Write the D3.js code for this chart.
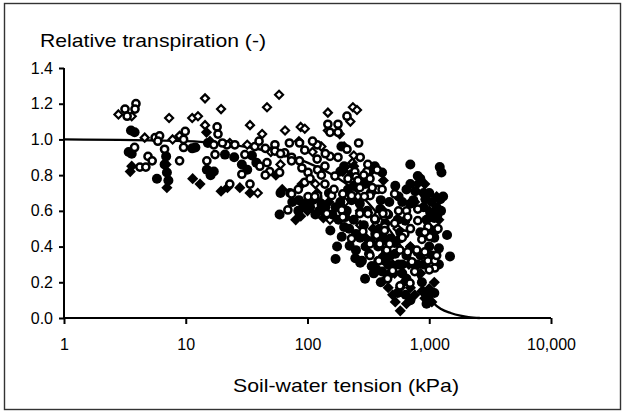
<!DOCTYPE html>
<html>
<head>
<meta charset="utf-8">
<script src="https://cdn.jsdelivr.net/npm/d3@7"></script>
<style>
  body { margin: 0; background: #fff; }
  text { font-family: "Liberation Sans", Arial, sans-serif; fill: #000; }
</style>
</head>
<body>
<svg id="chart"></svg>
<script>
// soil-water tension (kPa), relative transpiration (-)
const openDiamonds = [
  [2.8, 1.14], [3.6, 1.13], [7.3, 1.12], [4.6, 1.01], [7.8, 1.0], [8.9, 1.02],
  [11.3, 1.12], [12.6, 1.13], [14.4, 1.23], [19.5, 1.17], [14.4, 1.08], [33.7, 1.08],
  [46.5, 1.18], [58.4, 1.25], [65.4, 1.05], [42.4, 1.03], [23, 0.98], [32, 0.97],
  [88, 1.07], [95, 1.06], [147, 1.15], [236, 1.18], [255, 1.165], [225, 1.1],
  [147, 1.05], [184, 1.03], [39, 0.7], [153, 0.55], [271, 0.52], [204, 0.65],
  [313, 0.59], [116, 0.75], [225, 0.83], [234, 0.87], [240, 0.91], [60, 0.86],
  [50, 0.93], [110, 0.93], [130, 0.96], [85, 0.99], [200, 0.96], [300, 0.78],
  [420, 0.6], [550, 0.5], [700, 0.4], [260, 0.68]
];

const filledDiamonds = [
  [3.5, 0.82], [3.6, 0.85], [6.9, 0.86], [7.0, 0.73], [11.4, 0.78], [13.1, 0.75],
  [19.5, 0.71], [22, 0.73], [27.8, 0.73], [33.7, 0.7], [14.8, 1.04], [15.8, 0.99],
  [100, 0.6], [80, 0.55], [195, 0.82], [240, 0.85], [330, 0.82], [420, 0.77],
  [800, 0.75], [920, 0.75], [760, 0.65], [636, 0.55], [470, 0.44], [420, 0.35],
  [500, 0.3], [520, 0.25], [440, 0.22], [578, 0.17], [700, 0.17], [760, 0.13],
  [870, 0.15], [1000, 0.165], [920, 0.11], [578, 0.04], [526, 0.09], [500, 0.13],
  [620, 0.2], [850, 0.25], [1100, 0.2], [1050, 0.09], [680, 0.3], [345, 0.5],
  [300, 0.45], [150, 0.65], [120, 0.7], [90, 0.75], [62, 0.72], [55, 0.8],
  [270, 0.6], [1200, 0.55], [1000, 0.6], [900, 0.45], [88, 0.57], [135, 0.56],
  [380, 0.27], [460, 0.17], [650, 0.08], [1150, 0.68]
];

const filledCircles = [
  [3.55, 1.05], [3.8, 1.04], [3.6, 0.92], [3.4, 0.93], [6.9, 0.905], [5.8, 0.78],
  [7.0, 0.815], [7.2, 0.77], [6.7, 0.86], [11.3, 0.95], [12, 0.955], [14.9, 0.83],
  [15.2, 0.98], [21, 0.915], [28.9, 0.86], [25, 0.9], [35, 0.91], [38, 0.87],
  [32, 0.83], [17, 0.82], [16, 0.8],
  [59, 0.58], [60, 0.7], [72, 0.7], [92, 0.62], [116, 0.58], [154, 0.49],
  [200, 0.51], [250, 0.38], [271, 0.31], [340, 0.29], [410, 0.26], [84, 0.6],
  [121, 0.67], [140, 0.62], [186, 0.65], [215, 0.72], [230, 0.805], [190, 0.96],
  [269, 0.64], [297, 0.75], [326, 0.835], [357, 0.72], [396, 0.61], [435, 0.53],
  [480, 0.445], [526, 0.36], [578, 0.445], [636, 0.545], [699, 0.64], [768, 0.71],
  [845, 0.78], [929, 0.665], [1021, 0.585], [1122, 0.49], [1200, 0.39], [1234, 0.665],
  [720, 0.305], [650, 0.22], [550, 0.14], [480, 0.25], [435, 0.32], [337, 0.29],
  [297, 0.22], [280, 0.32], [247, 0.335], [222, 0.405], [191, 0.455], [175, 0.4],
  [170, 0.33], [204, 0.565], [699, 0.86], [1220, 0.845], [1260, 0.815], [805, 0.795],
  [1300, 0.68], [357, 0.85], [410, 0.815], [526, 0.74], [1400, 0.465], [1480, 0.345],
  [1170, 0.58], [1100, 0.56], [578, 0.48], [845, 0.48], [800, 0.37], [700, 0.39],
  [450, 0.43], [360, 0.47], [400, 0.66], [600, 0.65], [740, 0.66], [1000, 0.7],
  [900, 0.62], [460, 0.58], [200, 0.85], [186, 0.82], [240, 0.74], [360, 0.55],
  [310, 0.6], [270, 0.45], [330, 0.43], [600, 0.3], [900, 0.3], [1000, 0.4],
  [870, 0.2], [980, 0.12], [1100, 0.14], [950, 0.08], [700, 0.1], [640, 0.13],
  [75, 0.65], [85, 0.66], [95, 0.64], [105, 0.62], [110, 0.66], [125, 0.6],
  [130, 0.64], [160, 0.58], [170, 0.62], [180, 0.55], [210, 0.6], [220, 0.5],
  [240, 0.55], [250, 0.47], [290, 0.52], [300, 0.4], [320, 0.36], [380, 0.4],
  [390, 0.5], [420, 0.45], [440, 0.38], [520, 0.42], [550, 0.55], [560, 0.68],
  [650, 0.72], [700, 0.75], [900, 0.7], [1050, 0.65], [1150, 0.62], [1250, 0.6],
  [950, 0.55], [1000, 0.5], [1050, 0.35], [1200, 0.3], [1100, 0.45], [800, 0.3],
  [850, 0.35], [650, 0.35], [600, 0.25], [560, 0.3], [480, 0.35], [460, 0.3],
  [400, 0.2], [350, 0.25], [150, 0.7], [230, 0.66], [330, 0.7], [470, 0.65]
];

const openCircles = [
  [3.17, 1.17], [3.9, 1.2], [3.83, 1.17], [3.3, 1.13], [5.6, 1.01], [6.1, 1.02],
  [5.9, 0.99], [9.9, 1.045], [9.6, 1.0], [3.8, 0.955], [4.9, 0.905], [5.3, 0.88],
  [6.7, 0.945], [8.9, 0.88], [9.6, 0.955], [4.2, 0.845], [4.7, 0.845],
  [18.1, 1.07], [18.4, 1.03], [25.3, 0.97], [17.4, 0.915], [14.9, 0.88], [30.6, 0.915],
  [36.9, 0.96], [54, 0.97], [54, 0.935], [65, 0.925], [46.5, 0.87], [49, 0.82],
  [40.6, 0.85], [59, 0.815], [28.9, 0.805], [23, 0.75], [33.7, 0.75], [74, 0.9],
  [21.8, 0.97], [69, 0.605], [45, 0.8],
  [211, 1.13], [147, 1.085], [178, 1.085], [153, 1.04], [178, 1.04], [263, 0.98],
  [120, 0.97], [86, 0.98], [71, 0.98], [211, 0.945], [74, 0.88], [86, 0.88],
  [101, 0.815], [120, 0.89], [153, 0.905], [178, 0.9], [139, 0.85], [121, 0.83],
  [245, 0.82], [307, 0.82], [373, 0.83], [168, 0.795], [215, 0.78], [326, 0.78],
  [95, 0.76], [84, 0.72], [139, 0.75], [380, 0.72], [269, 0.73], [326, 0.685],
  [195, 0.695], [121, 0.685], [101, 0.68],
  [74, 0.695], [115, 0.68], [158, 0.685], [230, 0.685], [191, 0.605], [195, 0.565],
  [269, 0.585], [314, 0.585], [380, 0.575], [448, 0.585], [144, 0.585], [230, 0.445],
  [285, 0.485], [370, 0.463], [326, 0.415], [392, 0.425], [448, 0.38], [380, 0.32],
  [326, 0.35],
  [410, 0.72], [520, 0.695], [416, 0.585], [650, 0.6], [805, 0.61], [665, 0.565],
  [520, 0.53], [805, 0.545], [975, 0.51], [430, 0.51], [630, 0.47], [1010, 0.455],
  [357, 0.555], [430, 0.49], [920, 0.48], [392, 0.415], [472, 0.415], [575, 0.38],
  [665, 0.37], [790, 0.38], [920, 0.37], [975, 0.32], [1110, 0.32], [1110, 0.28],
  [720, 0.315], [385, 0.32], [500, 0.265], [760, 0.26], [455, 0.22], [575, 0.18],
  [695, 0.195],
  [271, 0.9], [313, 0.86], [250, 0.79], [293, 0.68], [340, 0.73], [1000, 0.27],
  [1150, 0.35], [1180, 0.5], [560, 0.6], [600, 0.45], [700, 0.5], [870, 0.44],
  [260, 0.77], [290, 0.8], [105, 0.78], [90, 0.84], [130, 0.8], [165, 0.72],
  [60, 0.92], [95, 0.94], [110, 0.99], [140, 0.92], [45, 0.95], [40, 0.99],
  [17, 0.97], [20, 0.98]
];

// fitted reduction curve
const curveX = [1, 10, 20, 40, 100, 200, 300, 400, 500, 600, 700, 800, 900, 1000, 1100, 1250, 1500, 1800, 2100, 2600];
const curveY = [1.0, 0.99, 0.975, 0.945, 0.87, 0.76, 0.66, 0.56, 0.47, 0.39, 0.31, 0.24, 0.17, 0.12, 0.08, 0.05, 0.028, 0.013, 0.005, 0];

const xTicks = [1, 10, 100, 1000, 10000];
const yTicks = [0, 0.2, 0.4, 0.6, 0.8, 1.0, 1.2, 1.4];

const width = 627;
const height = 412;
const margin = { top: 68, right: 76, bottom: 94, left: 64 };

const svg = d3.select('#chart')
  .attr('width', width)
  .attr('height', height);

// outer frame
svg.append('rect')
  .attr('x', 4.5).attr('y', 3.5)
  .attr('width', 616).attr('height', 406)
  .attr('fill', 'none')
  .attr('stroke', '#333')
  .attr('stroke-width', 1.4);

const x = d3.scaleLog()
  .domain([1, 10000])
  .range([margin.left, width - margin.right]);

const y = d3.scaleLinear()
  .domain([0, 1.4])
  .range([height - margin.bottom, margin.top]);

// axes
const xAxis = svg.append('g')
  .attr('transform', `translate(0,${y(0)})`)
  .call(d3.axisBottom(x)
    .tickValues(xTicks)
    .tickSize(6)
    .tickPadding(15)
    .tickFormat(d3.format(',')));

const yAxis = svg.append('g')
  .attr('transform', `translate(${x(1)},0)`)
  .call(d3.axisLeft(y)
    .tickValues(yTicks)
    .tickSize(5)
    .tickPadding(6)
    .tickFormat(d3.format('.1f')));

[xAxis, yAxis].forEach((g) => {
  g.select('.domain').attr('stroke', '#000').attr('stroke-width', 2);
  g.selectAll('.tick line').attr('stroke', '#000').attr('stroke-width', 2);
  g.selectAll('.tick text')
    .attr('font-size', 16)
    .attr('font-family', '"Liberation Sans", Arial, sans-serif')
    .attr('fill', '#000');
});
xAxis.select('.domain').attr('d', `M${x(1)},0H${x(10000)}`);
yAxis.select('.domain').attr('d', `M0,${y(0)}V${y(1.4)}`);

// curve
const line = d3.line()
  .x((d) => x(d[0]))
  .y((d) => y(d[1]))
  .curve(d3.curveMonotoneX);

svg.append('path')
  .datum(curveX.map((v, i) => [v, curveY[i]]))
  .attr('d', line)
  .attr('fill', 'none')
  .attr('stroke', '#000')
  .attr('stroke-width', 2.3);

// markers
const diamond = (s) => `M0,${-s}L${s},0L0,${s}L${-s},0Z`;
const plot = svg.append('g');

plot.selectAll('.od')
  .data(openDiamonds)
  .join('path')
  .attr('class', 'od')
  .attr('transform', (d) => `translate(${x(d[0])},${y(d[1])})`)
  .attr('d', diamond(4))
  .attr('fill', '#fff')
  .attr('stroke', '#000')
  .attr('stroke-width', 2.2);

plot.selectAll('.fd')
  .data(filledDiamonds)
  .join('path')
  .attr('class', 'fd')
  .attr('transform', (d) => `translate(${x(d[0])},${y(d[1])})`)
  .attr('d', diamond(5.6))
  .attr('fill', '#000');

plot.selectAll('.fc')
  .data(filledCircles)
  .join('circle')
  .attr('class', 'fc')
  .attr('cx', (d) => x(d[0]))
  .attr('cy', (d) => y(d[1]))
  .attr('r', 5)
  .attr('fill', '#000');

plot.selectAll('.oc')
  .data(openCircles)
  .join('circle')
  .attr('class', 'oc')
  .attr('cx', (d) => x(d[0]))
  .attr('cy', (d) => y(d[1]))
  .attr('r', 3.6)
  .attr('fill', '#fff')
  .attr('stroke', '#000')
  .attr('stroke-width', 2.5);

// titles
svg.append('text')
  .attr('x', 40)
  .attr('y', 47)
  .attr('font-size', 19)
  .attr('textLength', 226)
  .attr('lengthAdjust', 'spacingAndGlyphs')
  .text('Relative transpiration (-)');

svg.append('text')
  .attr('x', 346)
  .attr('y', 392)
  .attr('text-anchor', 'middle')
  .attr('font-size', 19)
  .attr('textLength', 226)
  .attr('lengthAdjust', 'spacingAndGlyphs')
  .text('Soil-water tension (kPa)');
</script>
</body>
</html>
